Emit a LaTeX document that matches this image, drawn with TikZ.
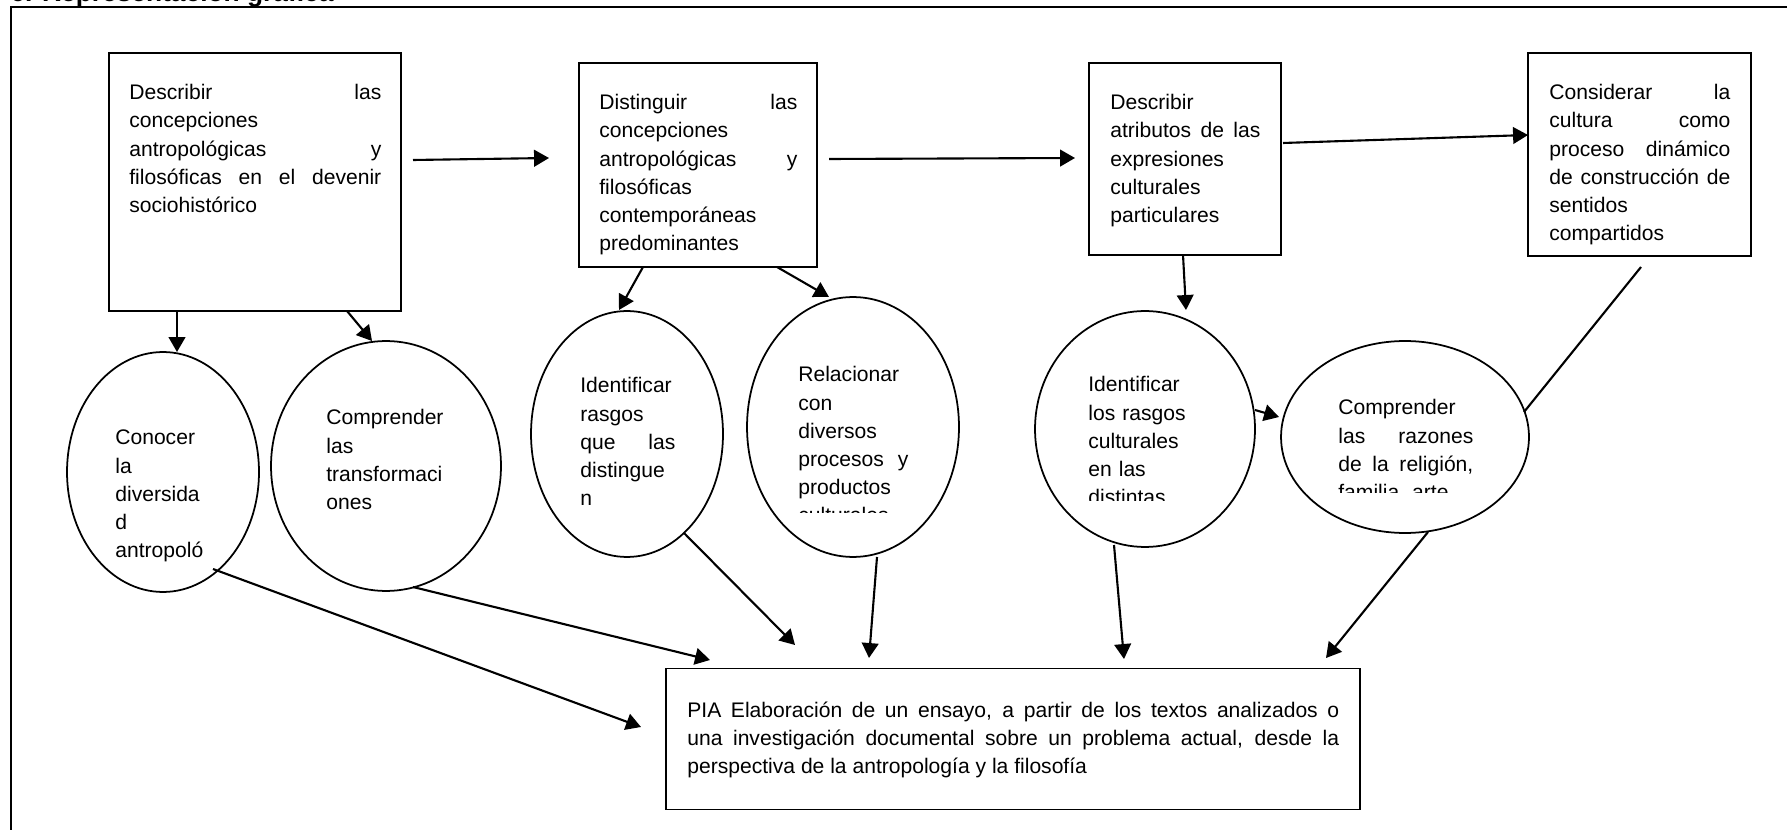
\documentclass[tikz,border=0pt]{standalone}
\usepackage{fontspec}
\setmainfont{Liberation Sans}
\usetikzlibrary{shapes.geometric,arrows.meta,calc}

\begin{document}
\begin{tikzpicture}[x=0.02cm,y=-0.02cm,>={Triangle[length=8.5pt,width=9.5pt]},
  box/.style={draw,line width=1.1pt,inner sep=0pt,outer sep=0pt},
  oval/.style={draw,ellipse,line width=1pt,inner sep=0pt,outer sep=0pt},
  txt/.style={inner sep=0pt,anchor=base west,align=left,font=\fontsize{12pt}{15.94pt}\selectfont},
  link/.style={line width=1.2pt}]
\fill[white] (0,0) rectangle (1787,830);
\useasboundingbox (0,0) rectangle (1787,830);

\node[inner sep=0pt,anchor=base west,font=\bfseries\fontsize{15pt}{18pt}\selectfont] (head) at (10,2) {6. Representación gráfica};
\draw[line width=1.1pt] (11,830) -- (11,6.7) -- (1787,6.7);

\node[box,minimum width=5.84cm,minimum height=5.16cm] (b1) at (255,182) {};
\node[box,minimum width=4.76cm,minimum height=4.08cm] (b2) at (698,165) {};
\node[box,minimum width=3.84cm,minimum height=3.84cm] (b3) at (1185,159) {};
\node[box,minimum width=4.46cm,minimum height=4.06cm] (b4) at (1639.5,154.5) {};
\node[box,minimum width=13.88cm,minimum height=2.82cm] (pia) at (1013,739) {};

\node[txt,text width=5.04cm] (t1) at (129,100) {Describir\hfill las\\ concepciones\\ antropológicas\hfill y\\ filosóficas\hfill en\hfill el\hfill devenir\\ sociohistórico};
\node[txt,text width=3.96cm] (t2) at (599,110) {Distinguir\hfill las\\ concepciones\\ antropológicas\hfill y\\ filosóficas\\ contemporáneas\\ predominantes};
\node[txt,text width=3cm] (t3) at (1110,110) {Describir\\ atributos\hfill de\hfill las\\ expresiones\\ culturales\\ particulares};
\node[txt,text width=3.62cm] (t4) at (1549,100) {Considerar\hfill la\\ cultura\hfill como\\ proceso\hfill dinámico\\ de\hfill construcción\hfill de\\ sentidos\\ compartidos};
\node[txt,text width=13.04cm,align=justify] (t5) at (687,717) {PIA Elaboración de un ensayo, a partir de los textos analizados o\linebreak una investigación documental sobre un problema actual, desde la\linebreak perspectiva de la antropología y la filosofía};

\node[oval,minimum width=3.84cm,minimum height=4.8cm] (e1) at (163,472) {};
\node[oval,minimum width=4.6cm,minimum height=5cm] (e2) at (386,466) {};
\node[oval,minimum width=3.84cm,minimum height=4.92cm] (e3) at (627,434) {};
\node[oval,minimum width=4.24cm,minimum height=5.2cm] (e4) at (853,427) {};
\node[oval,minimum width=4.4cm,minimum height=4.72cm] (e5) at (1145,429) {};
\node[oval,minimum width=4.96cm,minimum height=3.84cm] (e6) at (1405,437) {};

\node[txt,text width=1.8cm] (u1) at (115,445) {Conocer\\ la\\ diversida\\ d\\ antropoló};
\node[txt,text width=2.4cm] (u2) at (326,425) {Comprender\\ las\\ transformaci\\ ones};
\node[txt,text width=1.9cm] (u3) at (580,393) {Identificar\\ rasgos\\ que\hfill las\\ distingue\\ n};
\begin{scope}
\clip (740,290) rectangle (965,513);
\node[txt,text width=2.2cm] (u4) at (798,382) {Relacionar\\ con\\ diversos\\ procesos\hfill y\\ productos\\ culturales};
\end{scope}
\begin{scope}
\clip (1030,300) rectangle (1260,501);
\node[txt,text width=2cm] (u5) at (1088,392) {Identificar\\ los rasgos\\ culturales\\ en las\\ distintas};
\end{scope}
\begin{scope}
\clip (1275,330) rectangle (1535,493);
\node[txt,text width=2.7cm] (u6) at (1338,415) {Comprender\\ las\hfill razones\\ de\hfill la\hfill religión,\\ familia, arte,};
\end{scope}

\draw[->,link] ($(b1.center)+(158,-22)$) -- ($(b2.center)+(-149,-7)$);
\draw[->,link] ($(b2.center)+(131,-6)$) -- ($(b3.center)+(-110,-1)$);
\draw[->,link] ($(b3.center)+(98,-16)$) -- ($(b4.center)+(-111.5,-19.5)$);

\draw[->,link] ($(b1.center)+(-78,129)$) -- ($(e1.center)+(14,-120)$);
\draw[->,link] ($(b1.center)+(92,129)$) -- ($(e2.center)+(-14,-125)$);
\draw[->,link] ($(b2.center)+(-55,102)$) -- ($(e3.center)+(-8,-124)$);
\draw[->,link] ($(b2.center)+(79,102)$) -- ($(e4.center)+(-24,-130)$);
\draw[->,link] ($(b3.center)+(-2,96)$) -- ($(e5.center)+(41,-119)$);
\draw[->,link] ($(e5.center)+(110,-19)$) -- ($(e6.center)+(-126,-20)$);
\draw[link] ($(b4.center)+(1.5,112.5)$) -- ($(e6.center)+(119,-25)$);

\draw[->,link] ($(e1.center)+(50,97)$) -- ($(pia.center)+(-372,-12)$);
\draw[->,link] ($(e2.center)+(27,121)$) -- ($(pia.center)+(-303,-79)$);
\draw[->,link] ($(e3.center)+(57,99)$) -- ($(pia.center)+(-218,-94)$);
\draw[->,link] ($(e4.center)+(24,130)$) -- ($(pia.center)+(-144,-81)$);
\draw[->,link] ($(e5.center)+(-31,116)$) -- ($(pia.center)+(111,-80)$);
\draw[->,link] ($(e6.center)+(23,95)$) -- ($(pia.center)+(313,-81)$);
\end{tikzpicture}
\end{document}
